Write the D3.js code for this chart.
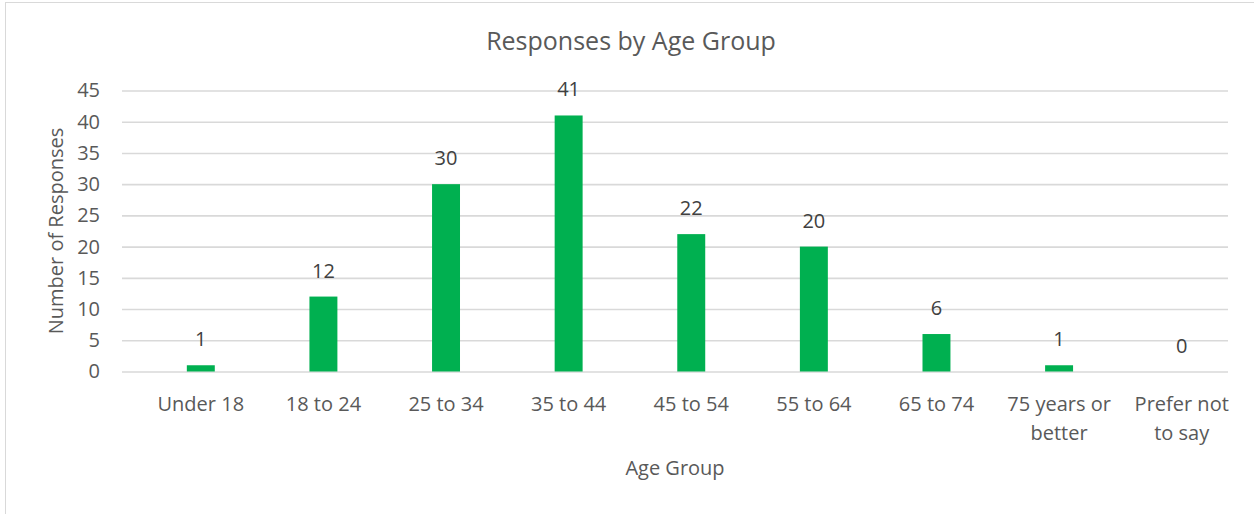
<!DOCTYPE html>
<html>
<head>
<meta charset="utf-8">
<script src="https://cdn.jsdelivr.net/npm/d3@7"></script>
<style>
  body { margin: 0; background: #fff; }
  text { font-family: "Open Sans", sans-serif; }
</style>
</head>
<body>
<svg id="chart" width="1254" height="514"></svg>
<script>
// data
var categories = ["Under 18", "18 to 24", "25 to 34", "35 to 44", "45 to 54",
                  "55 to 64", "65 to 74", "75 years or better", "Prefer not to say"];
var responses = [1, 12, 30, 41, 22, 20, 6, 1, 0];
var yTicks = [0, 5, 10, 15, 20, 25, 30, 35, 40, 45];
// how the long category names wrap
var labelLines = [["Under 18"], ["18 to 24"], ["25 to 34"], ["35 to 44"], ["45 to 54"],
                  ["55 to 64"], ["65 to 74"], ["75 years or", "better"], ["Prefer not", "to say"]];

var svg = d3.select("#chart");
var gridLeft = 122, gridRight = 1228;
var fs = 20;

// chart frame
svg.append("rect")
    .attr("x", 5.5).attr("y", 2.5)
    .attr("width", 1260).attr("height", 530)
    .attr("fill", "#fff")
    .attr("stroke", "#d9d9d9")
    .attr("stroke-width", 1);

var y = d3.scaleLinear().domain([0, 45]).range([371.5, 90.5]);
var x = d3.scaleBand()
    .domain(categories)
    .range([139.5, 1243])
    .paddingInner(0.772)
    .paddingOuter(0.386);

// gridlines + y tick labels
var yAxis = d3.axisLeft(y).tickValues(yTicks)
    .tickSize(-(gridRight - gridLeft)).tickPadding(22);
svg.append("g")
    .attr("transform", "translate(" + gridLeft + ",0)")
    .call(yAxis)
    .call(g => g.select(".domain").remove())
    .call(g => g.selectAll(".tick line").attr("stroke", "#d9d9d9").attr("stroke-width", 1.6))
    .call(g => g.selectAll(".tick text")
        .attr("fill", "#595959").attr("font-size", fs)
        .style("font-family", "'Open Sans', sans-serif"));

// bars
svg.append("g").selectAll("rect")
    .data(responses)
    .join("rect")
    .attr("x", (d, i) => x(categories[i]))
    .attr("y", d => y(d))
    .attr("width", x.bandwidth())
    .attr("height", d => y(0) - y(d))
    .attr("fill", "#00b050");

// data labels
svg.append("g").selectAll("text")
    .data(responses)
    .join("text")
    .attr("x", (d, i) => x(categories[i]) + x.bandwidth() / 2)
    .attr("y", d => y(d) - 19)
    .attr("text-anchor", "middle")
    .attr("fill", "#404040")
    .attr("font-size", fs)
    .text(d => d);

// x category labels
var xAxis = d3.axisBottom(x).tickSize(0).tickFormat("");
var xg = svg.append("g")
    .attr("transform", "translate(0," + y(0) + ")")
    .call(xAxis)
    .call(g => g.select(".domain").remove());
xg.selectAll(".tick").each(function (d, i) {
    var t = d3.select(this).append("text")
        .attr("text-anchor", "middle")
        .attr("fill", "#595959")
        .attr("font-size", fs);
    labelLines[i].forEach((ln, j) => {
        t.append("tspan").attr("x", 0).attr("y", 39 + j * 29).text(ln);
    });
});

// titles
svg.append("text")
    .attr("x", 631).attr("y", 50)
    .attr("text-anchor", "middle")
    .attr("fill", "#595959")
    .attr("font-size", 25)
    .text("Responses by Age Group");

svg.append("text")
    .attr("transform", "translate(63,231) rotate(-90)")
    .attr("text-anchor", "middle")
    .attr("fill", "#595959")
    .attr("font-size", fs)
    .text("Number of Responses");

svg.append("text")
    .attr("x", 675).attr("y", 475)
    .attr("text-anchor", "middle")
    .attr("fill", "#595959")
    .attr("font-size", fs)
    .text("Age Group");
</script>
</body>
</html>
